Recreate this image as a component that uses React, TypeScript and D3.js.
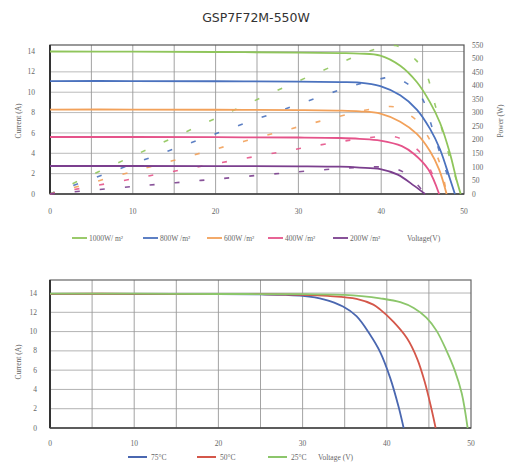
import * as d3 from "d3";

const TITLE = "GSP7F72M-550W";

// top chart: I-V curves per irradiance
const irrLabels = ["1000W/ m²", "800W /m²", "600W /m²", "400W /m²", "200W /m²"];
const irrColors = ["#8fc55b", "#4b72be", "#f2a15a", "#e5538a", "#7b3f8e"];

const v1000 = [0, 10, 20, 30, 35, 37.4, 39.9, 42.3, 44.3, 45.9, 47.1, 48.3, 49.1, 49.6];
const i1000 = [14.0, 13.98, 13.95, 13.9, 13.85, 13.8, 13.6, 12.6, 11.0, 9.0, 7.0, 4.0, 1.4, 0];
const v800 = [0, 10, 20, 30, 35, 37.4, 39.9, 42.3, 44.3, 45.9, 47.1, 48.3, 48.9];
const i800 = [11.1, 11.1, 11.08, 11.05, 11.0, 10.95, 10.6, 9.7, 8.3, 6.4, 4.4, 1.5, 0];
const v600 = [0, 10, 20, 30, 35, 37.4, 39.9, 42.3, 44.3, 45.9, 47, 47.9];
const i600 = [8.3, 8.3, 8.28, 8.25, 8.2, 8.12, 7.9, 7.1, 5.9, 4.2, 2.4, 0];
const v400 = [0, 10, 20, 30, 35, 37.4, 39.9, 42.5, 44, 45.7, 47];
const i400 = [5.6, 5.6, 5.58, 5.55, 5.5, 5.42, 5.25, 4.7, 3.9, 2.4, 0];
const v200 = [0, 10, 20, 30, 35, 37.4, 39.9, 42, 44, 45.3];
const i200 = [2.75, 2.75, 2.74, 2.72, 2.68, 2.6, 2.45, 1.9, 0.8, 0];

// top chart: P-V curves (dashed, right axis)
const pv1000 = [0, 10, 20, 30, 35, 38, 40, 41.7, 43, 44.2, 45.3, 46.5, 47.5, 48.5, 49.6];
const p1000 = [0, 140, 279, 417, 483, 522, 540, 548, 530, 494, 455, 330, 220, 110, 0];
const pv800 = [0, 10, 20, 30, 35, 38, 40, 41.5, 43, 44, 45, 46, 47, 48, 48.9];
const p800 = [0, 111, 222, 331, 384, 412, 426, 432, 410, 386, 350, 260, 160, 70, 0];
const pv600 = [0, 10, 20, 30, 35, 38, 40, 41.5, 43, 44.5, 45.5, 46.5, 47.3, 47.9];
const p600 = [0, 83, 166, 248, 287, 309, 319, 322, 300, 265, 220, 160, 90, 0];
const pv400 = [0, 10, 20, 30, 35, 38, 40, 41.5, 43, 44.5, 45.5, 46.3, 47];
const p400 = [0, 56, 112, 167, 193, 206, 212, 212, 195, 160, 115, 65, 0];
const pv200 = [0, 10, 20, 30, 35, 38, 40, 41.5, 43, 44.2, 45.3];
const p200 = [0, 27.5, 55, 82, 94, 99, 100, 96, 75, 40, 0];

// bottom chart: I-V curves per temperature
const tempLabels = ["75°C", "50°C", "25°C"];
const tempColors = ["#4a67b0", "#d4574a", "#8cc66b"];
const v75 = [0, 10, 20, 25, 28, 30, 32.5, 34.8, 36.4, 38, 39.2, 40.4, 41.4, 42];
const i75 = [13.9, 13.9, 13.88, 13.85, 13.8, 13.7, 13.35, 12.6, 11.6, 9.7, 7.9, 5.2, 2.2, 0];
const v50 = [0, 10, 20, 25, 30, 33, 36.4, 38.4, 39.2, 40.8, 42.4, 43.6, 44.5, 45.3, 45.8];
const i50 = [13.92, 13.92, 13.9, 13.88, 13.82, 13.7, 13.4, 12.8, 12.3, 11.0, 9.3, 7.2, 4.8, 2.0, 0];
const v25 = [0, 10, 20, 30, 35, 37, 39.2, 41.6, 43.2, 44.7, 45.9, 47.1, 48.1, 48.9, 49.6];
const i25 = [13.93, 13.93, 13.9, 13.88, 13.8, 13.68, 13.45, 13.05, 12.45, 11.45, 10.1, 8.0, 5.9, 3.6, 0];

const xTicks = [0, 10, 20, 30, 40, 50];
const xGrid = [5, 10, 15, 20, 25, 30, 35, 40, 45];
const currentTicks = [0, 2, 4, 6, 8, 10, 12, 14];
const powerTicks = [0, 50, 100, 150, 200, 250, 300, 350, 400, 450, 500, 550];

const tickFont = "'Liberation Serif', 'DejaVu Serif', serif";
const tickColor = "#666";

const ivTop = [
  { v: v1000, i: i1000, pv: pv1000, p: p1000 },
  { v: v800, i: i800, pv: pv800, p: p800 },
  { v: v600, i: i600, pv: pv600, p: p600 },
  { v: v400, i: i400, pv: pv400, p: p400 },
  { v: v200, i: i200, pv: pv200, p: p200 },
];
const ivBottom = [
  { v: v75, i: i75 },
  { v: v50, i: i50 },
  { v: v25, i: i25 },
];

function zip(xs: number[], ys: number[]): [number, number][] {
  return xs.map((x, k) => [x, ys[k]]);
}

export default function App() {
  // top chart scales
  const x1 = d3.scaleLinear().domain([0, 50]).range([50, 464]);
  const y1 = d3.scaleLinear().domain([0, 14.64]).range([194, 45]);
  const yP = d3.scaleLinear().domain([0, 550]).range([194, 45]);
  // bottom chart scales
  const x2 = d3.scaleLinear().domain([0, 50]).range([50, 471]);
  const y2 = d3.scaleLinear().domain([0, 15.35]).range([428, 280]);

  const smooth = d3.curveCatmullRom.alpha(0.5);
  const line1 = d3
    .line<[number, number]>()
    .x((d) => x1(d[0]))
    .y((d) => y1(d[1]))
    .curve(smooth);
  const lineP = d3
    .line<[number, number]>()
    .x((d) => x1(d[0]))
    .y((d) => yP(d[1]))
    .curve(smooth);
  const line2 = d3
    .line<[number, number]>()
    .x((d) => x2(d[0]))
    .y((d) => y2(d[1]))
    .curve(smooth);

  // legend layout
  const topLegendX = [72, 143, 207, 268, 333];
  const bottomLegendX = [128, 197, 268];

  return (
    <svg
      width={512}
      height={463}
      style={{ position: "absolute", left: 0, top: 0, background: "#fff" }}
    >
      <text
        x={256}
        y={22}
        textAnchor="middle"
        fontFamily="'DejaVu Sans', sans-serif"
        fontSize={12.5}
        fill="#333"
      >
        {TITLE}
      </text>

      {/* ---------- top chart ---------- */}
      <g>
        {currentTicks.slice(1).map((t) => (
          <line key={t} x1={x1(0)} x2={x1(50)} y1={y1(t)} y2={y1(t)} stroke="#aaa" strokeWidth={0.8} />
        ))}
        {xGrid.map((t) => (
          <line key={t} x1={x1(t)} x2={x1(t)} y1={y1(0)} y2={45} stroke="#999" strokeWidth={0.9} />
        ))}
        <rect x={x1(0)} y={45} width={x1(50) - x1(0)} height={y1(0) - 45} fill="none" stroke="#555" strokeWidth={1.2} />
        <line x1={x1(0)} x2={x1(0)} y1={45} y2={y1(0)} stroke="#333" strokeWidth={2} />
        <line x1={x1(0)} x2={x1(50)} y1={y1(0)} y2={y1(0)} stroke="#444" strokeWidth={1.6} />

        {ivTop.map((s, k) => (
          <path
            key={"p" + k}
            d={lineP(zip(s.pv, s.p)) ?? ""}
            fill="none"
            stroke={irrColors[k]}
            strokeWidth={1.6}
            strokeDasharray="5 20"
            opacity={0.9}
          />
        ))}
        {ivTop.map((s, k) => (
          <path
            key={"i" + k}
            d={line1(zip(s.v, s.i)) ?? ""}
            fill="none"
            stroke={irrColors[k]}
            strokeWidth={1.8}
          />
        ))}

        {currentTicks.map((t) => (
          <text key={t} x={35} y={y1(t)} dy="0.35em" textAnchor="end" fontFamily={tickFont} fontSize={7.5} fill={tickColor}>
            {t}
          </text>
        ))}
        {powerTicks.map((t) => (
          <text key={t} x={472} y={yP(t)} dy="0.35em" textAnchor="start" fontFamily={tickFont} fontSize={7.5} fill={tickColor}>
            {t}
          </text>
        ))}
        {xTicks.map((t) => (
          <text key={t} x={x1(t)} y={211} dy="0.35em" textAnchor="middle" fontFamily={tickFont} fontSize={7.5} fill={tickColor}>
            {t}
          </text>
        ))}
        <text
          transform="translate(21,121) rotate(-90)"
          textAnchor="middle"
          fontFamily={tickFont}
          fontSize={7.5}
          fill={tickColor}
        >
          Current (A)
        </text>
        <text
          transform="translate(503,121) rotate(-90)"
          textAnchor="middle"
          fontFamily={tickFont}
          fontSize={7.5}
          fill={tickColor}
        >
          Power (W)
        </text>

        {irrLabels.map((lab, k) => (
          <g key={lab} transform={`translate(${topLegendX[k]},238)`}>
            <line x1={0} x2={15} y1={0} y2={0} stroke={irrColors[k]} strokeWidth={1.8} />
            <text x={17} y={0} dy="0.35em" fontFamily={tickFont} fontSize={7.5} fill={tickColor}>
              {lab}
            </text>
          </g>
        ))}
        <text x={407} y={238} dy="0.35em" fontFamily={tickFont} fontSize={7.5} fill={tickColor}>
          Voltage(V)
        </text>
      </g>

      {/* ---------- bottom chart ---------- */}
      <g>
        {currentTicks.slice(1).map((t) => (
          <line key={t} x1={x2(0)} x2={x2(50)} y1={y2(t)} y2={y2(t)} stroke="#aaa" strokeWidth={0.9} />
        ))}
        {xGrid.map((t) => (
          <line key={t} x1={x2(t)} x2={x2(t)} y1={y2(0)} y2={280} stroke="#999" strokeWidth={0.9} />
        ))}
        <rect x={x2(0)} y={280} width={x2(50) - x2(0)} height={y2(0) - 280} fill="none" stroke="#666" strokeWidth={1.2} />
        <line x1={x2(0)} x2={x2(0)} y1={280} y2={y2(0)} stroke="#333" strokeWidth={2} />
        <line x1={x2(0)} x2={x2(50)} y1={y2(0)} y2={y2(0)} stroke="#444" strokeWidth={1.6} />

        {ivBottom.map((s, k) => (
          <path
            key={k}
            d={line2(zip(s.v, s.i)) ?? ""}
            fill="none"
            stroke={tempColors[k]}
            strokeWidth={1.8}
          />
        ))}

        {currentTicks.map((t) => (
          <text key={t} x={37} y={y2(t)} dy="0.35em" textAnchor="end" fontFamily={tickFont} fontSize={7.5} fill={tickColor}>
            {t}
          </text>
        ))}
        {xTicks.map((t) => (
          <text key={t} x={x2(t)} y={443} dy="0.35em" textAnchor="middle" fontFamily={tickFont} fontSize={7.5} fill={tickColor}>
            {t}
          </text>
        ))}
        <text
          transform="translate(21,362) rotate(-90)"
          textAnchor="middle"
          fontFamily={tickFont}
          fontSize={7.5}
          fill={tickColor}
        >
          Current (A)
        </text>

        {tempLabels.map((lab, k) => (
          <g key={lab} transform={`translate(${bottomLegendX[k]},457)`}>
            <line x1={0} x2={19} y1={0} y2={0} stroke={tempColors[k]} strokeWidth={2} />
            <text x={23} y={0} dy="0.35em" fontFamily={tickFont} fontSize={7.5} fill={tickColor}>
              {lab}
            </text>
          </g>
        ))}
        <text x={318} y={457} dy="0.35em" fontFamily={tickFont} fontSize={7.5} fill={tickColor}>
          Voltage (V)
        </text>
      </g>
    </svg>
  );
}
